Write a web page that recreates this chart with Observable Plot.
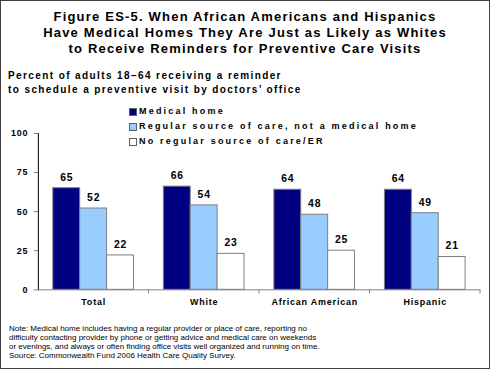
<!DOCTYPE html>
<html><head><meta charset="utf-8">
<script src="https://cdn.jsdelivr.net/npm/d3@7"></script>
<script src="https://cdn.jsdelivr.net/npm/@observablehq/plot@0.6"></script>
<style>
html,body{margin:0;padding:0;background:#fff;}
#frame{position:relative;width:490px;height:369px;box-sizing:border-box;border:1px solid #404040;font-family:"Liberation Sans",Arial,sans-serif;overflow:hidden;}
#title{position:absolute;left:0;top:8px;width:488px;text-align:center;font-weight:bold;font-size:13px;line-height:16.2px;letter-spacing:1.2px;color:#000;white-space:nowrap;}
#subtitle{position:absolute;left:7px;top:68px;font-weight:bold;font-size:10px;line-height:14px;color:#000;letter-spacing:1.4px;white-space:nowrap;}
#legend{position:absolute;left:128px;top:103px;font-weight:bold;font-size:9px;line-height:15px;color:#000;letter-spacing:2.2px;white-space:nowrap;}
#legend div{display:flex;align-items:center;height:15px;}
#legend span.sw{display:inline-block;width:6px;height:6px;border:1px solid #606060;margin-right:2px;}
#chart{position:absolute;left:0;top:124px;}
#chart svg text{letter-spacing:0.8px;}
#note{position:absolute;left:8px;top:323px;font-size:8px;line-height:9px;color:#000;white-space:nowrap;}
</style></head>
<body>
<div id="frame">
  <div id="title">Figure ES-5. When African Americans and Hispanics<br>Have Medical Homes They Are Just as Likely as Whites<br>to Receive Reminders for Preventive Care Visits</div>
  <div id="subtitle">Percent of adults 18–64 receiving a reminder<br>to schedule a preventive visit by doctors’ office</div>
  <div id="chart"></div>
  <div id="legend"></div>
  <div id="note">Note: Medical home includes having a regular provider or place of care, reporting no<br>difficulty contacting provider by phone or getting advice and medical care on weekends<br>or evenings, and always or often finding office visits well organized and running on time.<br>Source: Commonwealth Fund 2006 Health Care Quality Survey.</div>
</div>
<script>
const categories = ["Total", "White", "African American", "Hispanic"];
const series = ["Medical home", "Regular source of care, not a medical home", "No regular source of care/ER"];
const medicalHome = [65, 66, 64, 64];
const regularSource = [52, 54, 48, 49];
const noRegular = [22, 23, 25, 21];
const colors = ["#000080", "#99ccff", "#ffffff"];
const yTicks = [0, 25, 50, 75, 100];

const valuesBySeries = [medicalHome, regularSource, noRegular];
const rows = [];
categories.forEach((c, i) => series.forEach((s, j) => rows.push({category: c, series: s, value: valuesBySeries[j][i]})));

const chart = Plot.plot({
  width: 490,
  height: 186,
  marginTop: 8,
  marginLeft: 35,
  marginRight: 8,
  marginBottom: 21,
  style: {fontFamily: "'Liberation Sans', Arial, sans-serif", fontWeight: "bold", fontSize: "9px", color: "#000", background: "transparent"},
  facet: {data: rows, x: "category"},
  fx: {domain: categories, padding: 0, axis: "bottom", label: null, tickSize: 0, tickPadding: 9},
  x: {domain: series, axis: null, paddingInner: 0, paddingOuter: 0.5},
  y: {domain: [0, 100], ticks: yTicks, tickSize: 4, tickPadding: 6, label: null, line: true},
  color: {domain: series, range: colors},
  marks: [
    Plot.barY(rows, {x: "series", y: "value", fill: "series", stroke: "#7f7f7f", strokeWidth: 1}),
    Plot.text(rows, {x: "series", y: "value", text: d => String(d.value), dy: -11, fontWeight: "bold", fontSize: 10.5}),
    Plot.ruleY([0], {stroke: "#808080"}),
    Plot.ruleX(rows, {filter: d => d.series === series[2], x: "series", dx: 28, y1: 0, y2: 0, insetBottom: -4, stroke: "#808080"})
  ]
});
chart.querySelectorAll("[aria-label='y-axis'] line, [aria-label='y-axis'] path, g[aria-label='y-axis tick'] path, g[aria-label='y-axis'] path").forEach(e => e.setAttribute("stroke", "#808080"));
document.getElementById("chart").appendChild(chart);

const legend = document.getElementById("legend");
series.forEach((s, i) => {
  const row = document.createElement("div");
  const sw = document.createElement("span");
  sw.className = "sw";
  sw.style.background = colors[i];
  row.appendChild(sw);
  row.appendChild(document.createTextNode(s));
  legend.appendChild(row);
});
</script>
</body></html>
